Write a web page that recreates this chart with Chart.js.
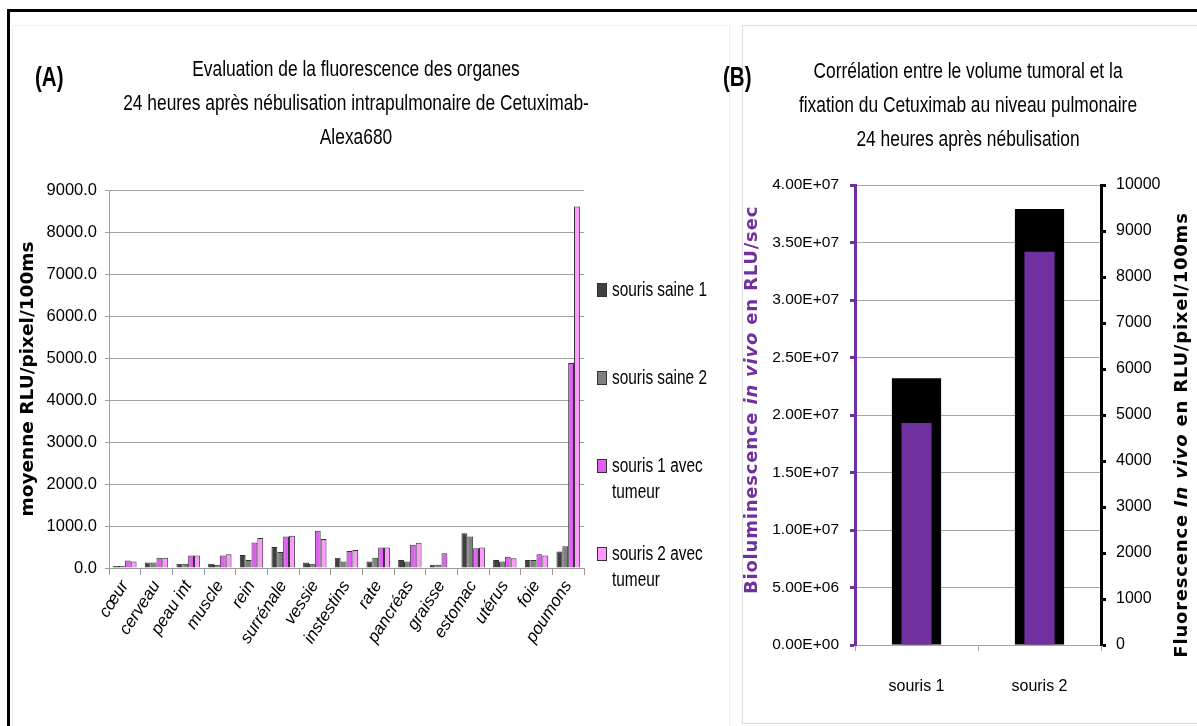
<!DOCTYPE html>
<html>
<head>
<meta charset="utf-8">
<script src="https://cdn.jsdelivr.net/npm/chart.js@4.4.0/dist/chart.umd.min.js"></script>
<style>
body { margin:0; background:#fff; }
#wrap { position:relative; width:1197px; height:726px; overflow:hidden; background:#fff; }
#frame { position:absolute; left:7px; top:9px; width:1250px; height:800px; border-top:3px solid #000; border-left:3px solid #000; }
#boxA { position:absolute; left:12px; top:25px; width:716px; height:720px; border:1px solid #efefef; }
#boxB { position:absolute; left:742px; top:25px; width:470px; height:697px; border:1px solid #dedede; }
canvas { position:absolute; top:0; }
#cA { left:0; }
#cB { left:728px; }
.hd { position:absolute; font-family:"Liberation Sans",Arial,sans-serif; font-size:22px; color:#000; text-align:center; line-height:34px; white-space:nowrap; transform:scaleX(0.79); transform-origin:50% 0; }
.tag { position:absolute; font-family:"Liberation Sans",Arial,sans-serif; font-size:27px; font-weight:bold; color:#000; transform:scaleX(0.76); transform-origin:0 0; }
</style>
</head>
<body>
<div id="wrap">
  <div id="frame"></div>
  <div id="boxA"></div>
  <div id="boxB"></div>
  <canvas id="cA" width="740" height="726"></canvas>
  <canvas id="cB" width="469" height="726"></canvas>
  <div class="tag" style="left:35px;top:62px;">(A)</div>
  <div class="hd" style="left:6px;top:52px;width:700px;">Evaluation de la fluorescence des organes<br>24 heures après nébulisation intrapulmonaire de Cetuximab-<br>Alexa680</div>
  <div class="tag" style="left:723px;top:62px;">(B)</div>
  <div class="hd" style="left:668px;top:54px;width:600px;">Corrélation entre le volume tumoral et la<br>fixation du Cetuximab au niveau pulmonaire<br>24 heures après nébulisation</div>
</div>
<script>
var SANS = '"Liberation Sans", Arial, sans-serif';

// (A) organes
var organes = ['cœur', 'cerveau', 'peau int', 'muscle', 'rein', 'surrénale', 'vessie', 'instestins',
               'rate', 'pancréas', 'graisse', 'estomac', 'utérus', 'foie', 'poumons'];
var series_a = ['souris saine 1', 'souris saine 2', 'souris 1 avec tumeur', 'souris 2 avec tumeur'];
var saine1 = [50, 130, 100, 100, 310, 500, 130, 245, 155, 190, 75, 830, 190, 190, 390];
var saine2 = [50, 130, 100, 75, 190, 380, 100, 155, 245, 155, 80, 750, 155, 190, 520];
var tumeur1 = [180, 245, 300, 300, 610, 750, 885, 405, 490, 555, 350, 470, 270, 325, 4880];
var tumeur2 = [155, 245, 300, 325, 715, 770, 690, 430, 490, 600, null, 490, 235, 300, 8610];
var y_ticks_a = [0, 1000, 2000, 3000, 4000, 5000, 6000, 7000, 8000, 9000];

// (B) souris
var souris = ['souris 1', 'souris 2'];
var biolum = [1.93e7, 3.42e7];
var fluo = [5800, 9480];

var legendA = {
    id: 'legendA',
    afterDraw: function(chart) {
        var ctx = chart.ctx;
        var sx = 0.77;
        ctx.save();
        ctx.font = '20px ' + SANS;
        ctx.textBaseline = 'middle';
        var y = 290;
        chart.data.datasets.forEach(function(ds) {
            // wrap the label
            var words = ds.label.split(' ');
            var lines = [], cur = '';
            words.forEach(function(w) {
                var t = cur ? cur + ' ' + w : w;
                if (ctx.measureText(t).width * sx > 100 && cur) { lines.push(cur); cur = w; }
                else cur = t;
            });
            lines.push(cur);
            ctx.fillStyle = ds.backgroundColor;
            ctx.fillRect(597, y - 7, 9, 14);
            ctx.strokeStyle = '#333';
            ctx.lineWidth = 1;
            ctx.strokeRect(597.5, y - 6.5, 9, 13);
            ctx.fillStyle = '#000';
            lines.forEach(function(l, i) {
                ctx.save();
                ctx.translate(612, y + i * 26);
                ctx.scale(sx, 1);
                ctx.fillText(l, 0, 0);
                ctx.restore();
            });
            y += 88;
        });
        ctx.restore();
    }
};

function drawRotated(ctx, parts, x, y, color) {
    ctx.save();
    ctx.translate(x, y);
    ctx.rotate(-Math.PI / 2);
    ctx.textBaseline = 'middle';
    ctx.fillStyle = color;
    if ('letterSpacing' in ctx) ctx.letterSpacing = '0.8px';
    var total = 0;
    parts.forEach(function(p) {
        ctx.font = p[1] + ' bold 18px "DejaVu Sans", sans-serif';
        total += ctx.measureText(p[0]).width;
    });
    var cur = -total / 2;
    parts.forEach(function(p) {
        ctx.font = p[1] + ' bold 18px "DejaVu Sans", sans-serif';
        ctx.fillText(p[0], cur, 0);
        cur += ctx.measureText(p[0]).width;
    });
    ctx.restore();
}

var axisTitlesB = {
    id: 'axisTitlesB',
    afterDraw: function(chart) {
        var ctx = chart.ctx;
        drawRotated(ctx, [['Bioluminescence ', 'normal'], ['in vivo', 'italic'], [' en RLU/sec', 'normal']], 24, 400, '#7030a0');
        drawRotated(ctx, [['Fluorescence ', 'normal'], ['In vivo', 'italic'], [' en RLU/pixel/100ms', 'normal']], 454, 435, '#000');
    }
};

function fmtE(v) {
    if (v === 0) return '0.00E+00';
    var e = Math.floor(Math.log10(v));
    var m = v / Math.pow(10, e);
    return m.toFixed(2) + 'E+' + (e < 10 ? '0' + e : e);
}

var chart_a = new Chart(document.getElementById('cA'), {
    type: 'bar',
    data: {
        labels: organes,
        datasets: [
            { label: series_a[0], data: saine1, backgroundColor: '#404040' },
            { label: series_a[1], data: saine2, backgroundColor: '#808080' },
            { label: series_a[2], data: tumeur1, backgroundColor: '#df5ff0' },
            { label: series_a[3], data: tumeur2, backgroundColor: '#ff99ff' }
        ]
    },
    plugins: [legendA],
    options: {
        responsive: false,
        animation: false,
        layout: { padding: { left: 10, top: 190, right: 156, bottom: 0 } },
        datasets: {
            bar: { categoryPercentage: 0.74, barPercentage: 1, borderColor: '#333', borderWidth: 1 }
        },
        plugins: {
            legend: { display: false },
            tooltip: { enabled: false }
        },
        scales: {
            x: {
                grid: { offset: true, drawOnChartArea: false, color: '#999', tickLength: 7 },
                border: { color: '#999' },
                ticks: {
                    minRotation: 57, maxRotation: 57, color: '#000', padding: 2,
                    font: { family: SANS, size: 17, style: 'italic' }
                },
                afterFit: function(s) { s.height = 158; }
            },
            y: {
                min: 0, max: 9000,
                afterBuildTicks: function(s) { s.ticks = y_ticks_a.map(function(v) { return { value: v }; }); },
                ticks: {
                    color: '#000', padding: 8,
                    font: { family: SANS, size: 16.5 },
                    callback: function(v) { return v.toFixed(1); }
                },
                grid: { color: '#a0a0a0', tickLength: 4 },
                border: { color: '#a0a0a0' },
                title: {
                    display: true, text: 'moyenne RLU/pixel/100ms', color: '#000',
                    font: { family: '"DejaVu Sans", sans-serif', weight: 'bold', size: 18.5 },
                    padding: { top: 7, bottom: 0 }
                },
                afterFit: function(s) { s.width = 99; }
            }
        }
    }
});

var chart_b = new Chart(document.getElementById('cB'), {
    type: 'bar',
    data: {
        labels: souris,
        datasets: [
            { label: 'Bioluminescence', data: biolum, backgroundColor: '#7030a0', yAxisID: 'y', barPercentage: 0.245, order: 0 },
            { label: 'Fluorescence', data: fluo, backgroundColor: '#000000', yAxisID: 'y1', barPercentage: 0.4, order: 1 }
        ]
    },
    plugins: [axisTitlesB],
    options: {
        responsive: false,
        animation: false,
        layout: { padding: { left: 0, top: 185, right: 0, bottom: 0 } },
        datasets: { bar: { grouped: false, categoryPercentage: 1 } },
        plugins: {
            legend: { display: false },
            tooltip: { enabled: false }
        },
        scales: {
            x: {
                grid: { offset: true, drawOnChartArea: false, color: '#a6a6a6', tickLength: 6 },
                border: { color: '#a6a6a6' },
                ticks: { color: '#000', padding: 26, font: { family: SANS, size: 16 } },
                afterFit: function(s) { s.height = 81; }
            },
            y: {
                position: 'left', min: 0, max: 4e7,
                ticks: { stepSize: 5e6, color: '#000', padding: 11, font: { family: SANS, size: 15.5 }, callback: fmtE },
                grid: { color: '#a6a6a6', tickColor: '#7030a0', tickWidth: 3, tickLength: 5 },
                border: { color: '#7030a0', width: 3 },
                afterFit: function(s) { s.width = 127; }
            },
            y1: {
                position: 'right', min: 0, max: 10000,
                ticks: { stepSize: 1000, color: '#000', padding: 10, font: { family: SANS, size: 16 },
                         callback: function(v) { return String(v); } },
                grid: { drawOnChartArea: false, tickColor: '#000', tickWidth: 3, tickLength: 5 },
                border: { color: '#000', width: 3 },
                afterFit: function(s) { s.width = 96; }
            }
        }
    }
});
</script>
</body>
</html>
